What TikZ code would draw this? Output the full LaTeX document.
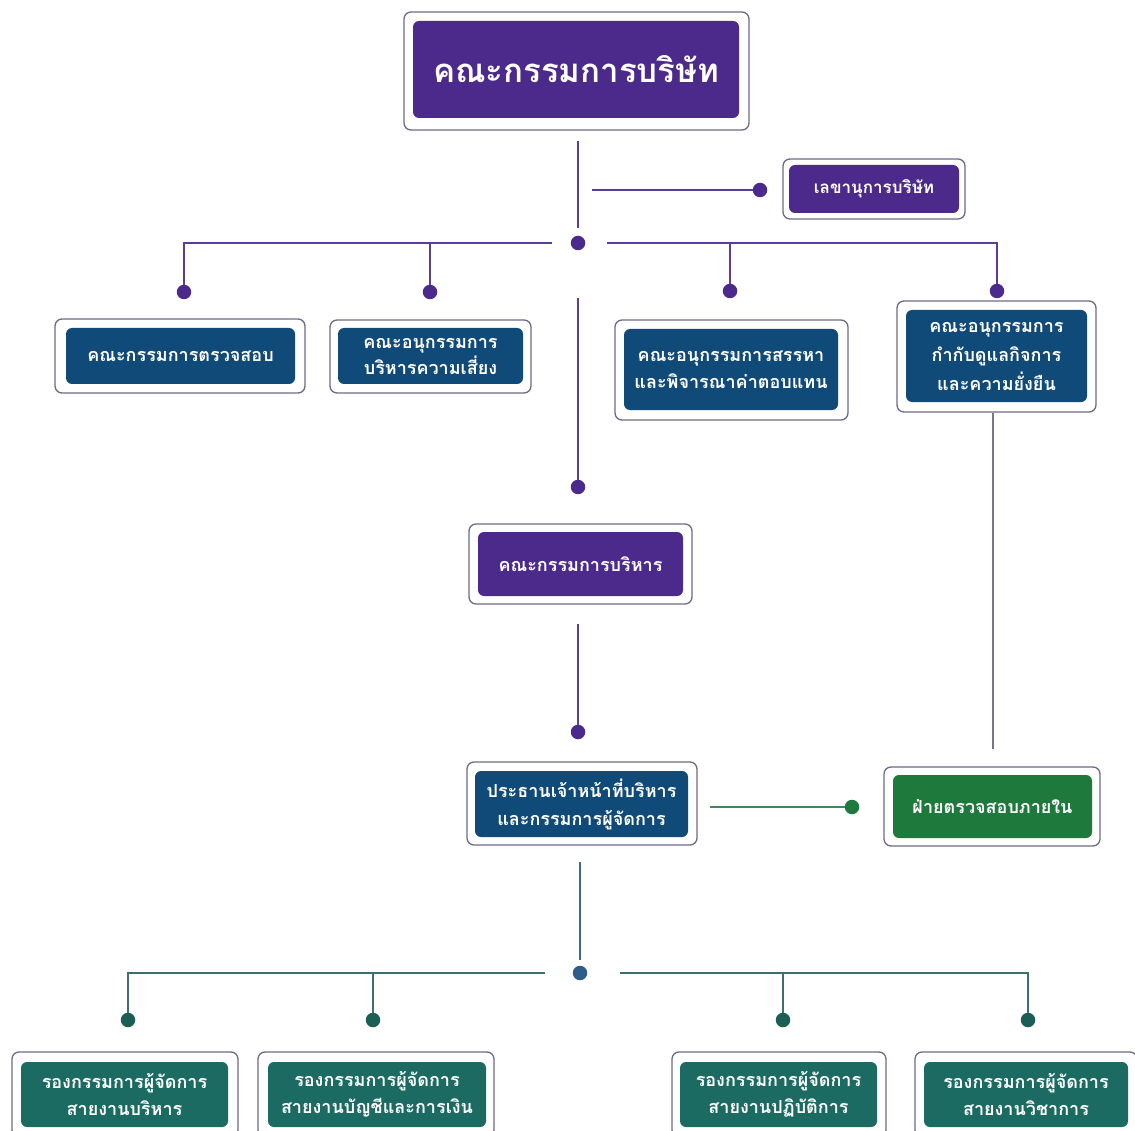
\documentclass[tikz,border=0pt]{standalone}
\usepackage{fontspec}
\newfontfamily\thai[Script=Thai]{Loma}
\definecolor{cpurple}{HTML}{4B2A8C}
\definecolor{cblue}{HTML}{0F4A78}
\definecolor{cgreen}{HTML}{1E7A3C}
\definecolor{cteal}{HTML}{1B6B62}
\definecolor{cframe}{HTML}{6E6A86}
\definecolor{lpurple}{HTML}{5A3C9A}
\definecolor{lgray}{HTML}{7A7494}
\definecolor{lgreen}{HTML}{3A8A5A}
\definecolor{lteal}{HTML}{3F6E6E}
\definecolor{dblue}{HTML}{2E5D8C}
\definecolor{dteal}{HTML}{1B5E55}
\tikzset{
  frame/.style={draw=cframe, line width=1.3pt, rounded corners=7pt, fill=white, inner sep=0pt},
  boxin/.style={rounded corners=6pt, inner sep=0pt, text=white, align=center,
     font=\thai\bfseries\fontsize{18}{27}\selectfont},
  dotn/.style={circle, inner sep=0pt, minimum size=14.5pt},
  conn/.style={line width=1.8pt},
}
\begin{document}
\begin{tikzpicture}[x=1pt,y=-1pt]
\useasboundingbox (0,0) rectangle (1135,1131);
\clip (0,0) rectangle (1135,1131);
\fill[white] (0,0) rectangle (1135,1131);

% ---------- boxes ----------
\node[frame, minimum width=345pt, minimum height=118pt] (topF) at (576.5,71) {};
\node[boxin, fill=cpurple, minimum width=326pt, minimum height=97pt, font=\thai\bfseries\fontsize{33}{38}\selectfont] (top) at (576,69.5) {คณะกรรมการบริษัท};

\node[frame, minimum width=182pt, minimum height=60pt] (secF) at (874,189) {};
\node[boxin, fill=cpurple, minimum width=170pt, minimum height=48pt, font=\thai\bfseries\fontsize{17}{24}\selectfont] (sec) at (874,189) {เลขานุการบริษัท};

\node[frame, minimum width=250pt, minimum height=74pt] (audF) at (180,356) {};
\node[boxin, fill=cblue, minimum width=229pt, minimum height=56pt] (aud) at (180.5,356) {คณะกรรมการตรวจสอบ};

\node[frame, minimum width=201pt, minimum height=73pt] (riskF) at (430.5,356.5) {};
\node[boxin, fill=cblue, minimum width=185pt, minimum height=56pt, font=\thai\bfseries\fontsize{18}{26}\selectfont] (risk) at (430.5,356) {คณะอนุกรรมการ\\บริหารความเสี่ยง};

\node[frame, minimum width=233pt, minimum height=100pt] (nomF) at (731.5,370) {};
\node[boxin, fill=cblue, minimum width=214pt, minimum height=81pt] (nom) at (731,369.5) {คณะอนุกรรมการสรรหา\\และพิจารณาค่าตอบแทน};

\node[frame, minimum width=199pt, minimum height=111pt] (govF) at (996.5,356.5) {};
\node[boxin, fill=cblue, minimum width=181pt, minimum height=92pt, font=\thai\bfseries\fontsize{18}{29}\selectfont] (gov) at (996.5,356) {คณะอนุกรรมการ\\กำกับดูแลกิจการ\\และความยั่งยืน};

\node[frame, minimum width=223pt, minimum height=80pt] (exeF) at (580.5,564) {};
\node[boxin, fill=cpurple, minimum width=205pt, minimum height=64pt] (exe) at (580.5,564) {คณะกรรมการบริหาร};

\node[frame, minimum width=230pt, minimum height=83pt] (ceoF) at (582,803.5) {};
\node[boxin, fill=cblue, minimum width=213pt, minimum height=66pt, font=\thai\bfseries\fontsize{18}{28}\selectfont] (ceo) at (581.5,804) {ประธานเจ้าหน้าที่บริหาร\\และกรรมการผู้จัดการ};

\node[frame, minimum width=216pt, minimum height=79pt] (iaF) at (992,806.5) {};
\node[boxin, fill=cgreen, minimum width=199pt, minimum height=63pt] (ia) at (992.5,806.5) {ฝ่ายตรวจสอบภายใน};

\node[frame, minimum width=226pt, minimum height=85pt] (b1F) at (125,1094.5) {};
\node[boxin, fill=cteal, minimum width=207pt, minimum height=65pt] (b1) at (124.5,1094.5) {รองกรรมการผู้จัดการ\\สายงานบริหาร};

\node[frame, minimum width=236pt, minimum height=85pt] (b2F) at (376,1094.5) {};
\node[boxin, fill=cteal, minimum width=218pt, minimum height=65pt] (b2) at (377,1094.5) {รองกรรมการผู้จัดการ\\สายงานบัญชีและการเงิน};

\node[frame, minimum width=214pt, minimum height=85pt] (b3F) at (779,1094.5) {};
\node[boxin, fill=cteal, minimum width=197pt, minimum height=65pt] (b3) at (778.5,1094.5) {รองกรรมการผู้จัดการ\\สายงานปฏิบัติการ};

\node[frame, minimum width=222pt, minimum height=85pt] (b4F) at (1026,1094.5) {};
\node[boxin, fill=cteal, minimum width=204pt, minimum height=65pt] (b4) at (1026,1094.5) {รองกรรมการผู้จัดการ\\สายงานวิชาการ};

% ---------- dots ----------
\node[dotn, fill=cpurple] (d0) at (578,243) {};
\node[dotn, fill=cpurple] (dsec) at (760,190) {};
\node[dotn, fill=cpurple] (dA) at (184,292) {};
\node[dotn, fill=cpurple] (dB) at (430,292) {};
\node[dotn, fill=cpurple] (dC) at (730,291) {};
\node[dotn, fill=cpurple] (dD) at (997,291) {};
\node[dotn, fill=cpurple] (dexe) at (578,487) {};
\node[dotn, fill=cpurple] (dceo) at (578,732) {};
\node[dotn, fill=cgreen] (dia) at (852,807) {};
\node[dotn, fill=dblue] (dbot) at (580,973) {};
\node[dotn, fill=dteal] (e1) at (128,1020) {};
\node[dotn, fill=dteal] (e2) at (373,1020) {};
\node[dotn, fill=dteal] (e3) at (783,1020) {};
\node[dotn, fill=dteal] (e4) at (1028,1020) {};

% ---------- coordinates ----------
\coordinate (topS) at ([yshift=-10pt]topF.south);
\coordinate (hL) at ([xshift=-26pt]d0.center);
\coordinate (hR) at ([xshift=29pt]d0.center);
\coordinate (secS) at (592,190);
\coordinate (midS) at (578,298);
\coordinate (exeS) at (578,624);
\coordinate (ceoS) at (580,862);
\coordinate (ceoE) at (710,807);
\coordinate (bL) at ([xshift=-35pt]dbot.center);
\coordinate (bR) at ([xshift=40pt]dbot.center);
\coordinate (gx) at (993,0);

% ---------- connectors ----------
\draw[conn, lpurple] (d0 |- topS) -- ([yshift=8pt]d0.north);
\draw[conn, lpurple] (secS) -- (dsec);
\draw[conn, lpurple] (hL) -| (dA);
\draw[conn, lpurple] (dB |- hL) -- (dB);
\draw[conn, lpurple] (hR) -| (dD);
\draw[conn, lpurple] (dC |- hR) -- (dC);
\draw[conn, lpurple] (midS) -- (dexe);
\draw[conn, lpurple] (exeS) -- (dceo);
\draw[conn, lgray] (govF.south -| gx) -- ([yshift=17pt]iaF.north -| gx);
\draw[conn, lgreen] (ceoE) -- (dia);
\draw[conn, lteal] (ceoS) -- ([yshift=6pt]dbot.north);
\draw[conn, lteal] (bL) -| (e1);
\draw[conn, lteal] (e2 |- bL) -- (e2);
\draw[conn, lteal] (bR) -| (e4);
\draw[conn, lteal] (e3 |- bR) -- (e3);
\end{tikzpicture}
\end{document}
